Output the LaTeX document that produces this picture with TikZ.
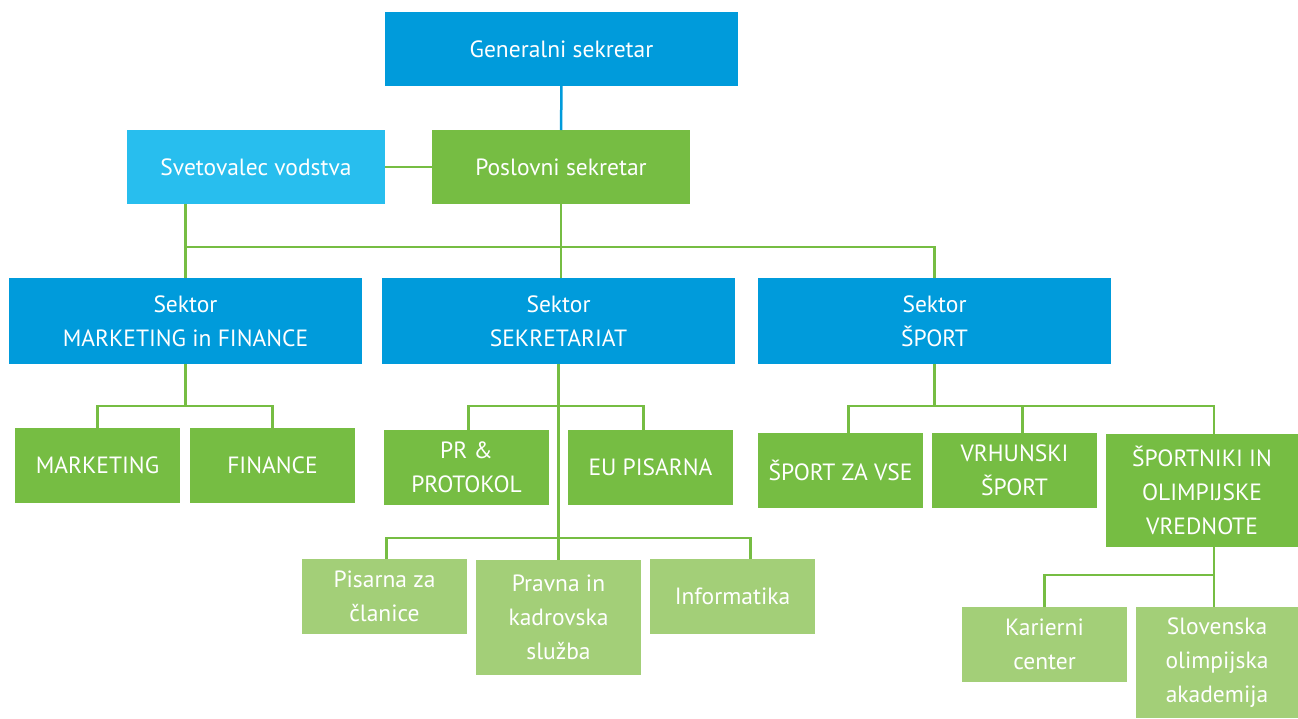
\documentclass[tikz,border=0pt]{standalone}
\usepackage{fontspec}
\setmainfont{PT Sans}
\definecolor{oksblue}{RGB}{0,155,219}
\definecolor{okslight}{RGB}{40,190,238}
\definecolor{oksgreen}{RGB}{118,189,67}
\definecolor{okspale}{RGB}{163,207,120}
\begin{document}
\begin{tikzpicture}[x=1pt,y=-1pt,
        box/.style={text=white, align=center, inner sep=0pt, outer sep=0pt,
            font=\fontsize{23.5}{34}\selectfont},
        head/.style={box, fill=oksblue, minimum width=353, minimum height=74},
        sector/.style={box, fill=oksblue, minimum width=353, minimum height=86},
        unit/.style={box, fill=oksgreen, minimum width=165, minimum height=75},
        office/.style={box, fill=okspale, minimum width=165, minimum height=75},
        link/.style={draw=oksgreen, line width=2.5pt}]
        \useasboundingbox (0,0) rectangle (1298,718);
        % Top
        \node[head] (gen) at (561.5,49) {Generalni sekretar};
        \node[box, fill=okslight, minimum width=258, minimum height=74] (svet) at (256,167) {Svetovalec vodstva};
        \node[box, fill=oksgreen, minimum width=258, minimum height=74] (posl) at (561,167) {Poslovni sekretar};
        % Sectors
        \node[sector] (smf) at (185.5,321) {Sektor\\MARKETING in FINANCE};
        \node[sector] (ssek) at (558.5,321) {Sektor\\SEKRETARIAT};
        \node[sector] (ssp) at (934.5,321) {Sektor\\ŠPORT};
        % Units
        \node[unit] (mark) at (97.5,465.5) {MARKETING};
        \node[unit] (fin) at (272.5,465.5) {FINANCE};
        \node[unit] (pr) at (466.5,467.5) {PR \&\\PROTOKOL};
        \node[unit] (eu) at (650.5,467.5) {EU PISARNA};
        \node[unit] (szv) at (840.5,470.5) {ŠPORT ZA VSE};
        \node[unit] (vrh) at (1014.5,470.5) {VRHUNSKI\\ŠPORT};
        \node[unit, minimum width=192, minimum height=113] (solv) at (1202,490.5) {ŠPORTNIKI IN\\OLIMPIJSKE\\VREDNOTE};
        % Offices
        \node[office] (pis) at (384.5,596.5) {Pisarna za\\članice};
        \node[office, minimum height=115] (prav) at (558.5,617.5) {Pravna in\\kadrovska\\služba};
        \node[office] (inf) at (732.5,596.5) {Informatika};
        \node[office] (kar) at (1044.5,644.5) {Karierni\\center};
        \node[office, minimum width=162, minimum height=111] (slo) at (1217,662.5) {Slovenska\\olimpijska\\akademija};
        % Lines
        \coordinate (busa) at (0,247);
        \coordinate (busb) at (0,406);
        \coordinate (busc) at (0,538);
        \coordinate (busd) at (0,575);
        \draw[draw=oksblue, line width=2.5pt] (gen) -- (posl);
        \draw[link] (svet) -- (posl);
        \draw[link] (smf.north) -- (smf.north |- svet.south);
        \draw[link] (posl.south) -- (posl.south |- ssek.north);
        \draw[link] (smf.north |- busa) -| (ssp.north);
        \draw[link] (smf.south) -- (smf.south |- busb);
        \draw[link] (mark.north) |- (fin.north |- busb) -- (fin.north);
        \draw[link] (ssek.south) -- (prav.north);
        \draw[link] ([xshift=2]pr.north) |- ([xshift=-7]eu.north |- busb) -- ([xshift=-7]eu.north);
        \draw[link] ([xshift=2]pis.north) |- ([xshift=18]inf.north |- busc) -- ([xshift=18]inf.north);
        \draw[link] (ssp.south) -- (ssp.south |- busb);
        \draw[link] ([xshift=8]szv.north) |- ([xshift=12]solv.north |- busb) -- ([xshift=12]solv.north);
        \draw[link] ([xshift=8]vrh.north) -- ([xshift=8]vrh.north |- busb);
        \draw[link] ([xshift=12]solv.south) -- ([xshift=12]solv.south |- busd);
        \draw[link] (kar.north) |- ([xshift=-3]slo.north |- busd) -- ([xshift=-3]slo.north);
\end{tikzpicture}
\end{document}
